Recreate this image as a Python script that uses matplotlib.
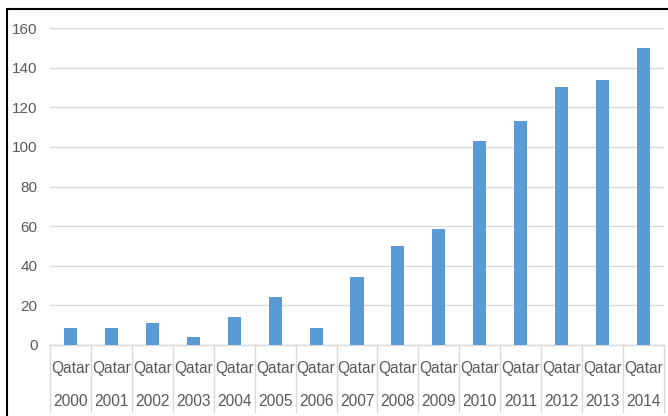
import matplotlib
matplotlib.use("Agg")
import matplotlib.pyplot as plt
import matplotlib.transforms as mtransforms
from matplotlib.patches import Rectangle

country = "Qatar"
years = ["2000", "2001", "2002", "2003", "2004", "2005", "2006", "2007",
         "2008", "2009", "2010", "2011", "2012", "2013", "2014"]
values = [8.7, 8.7, 11, 4, 14, 24, 8.7, 34.5, 50, 58.7, 103, 113, 130, 134, 150]
yticks = [0, 20, 40, 60, 80, 100, 120, 140, 160]

W, H = 668, 416
fig = plt.figure(figsize=(W / 100, H / 100), dpi=100)
ax = fig.add_axes([50 / W, (H - 345) / H, 614 / W, 317 / H])

grid_col = "#D9D9D9"
text_col = "#595959"
font = "Liberation Sans"

x = list(range(len(years)))
ax.bar(x, values, width=0.32, color="#5B9BD5", zorder=3)

ax.set_xlim(-0.5, len(years) - 0.5)
ax.set_ylim(0, 160)
ax.set_yticks(yticks)
ax.set_yticklabels([str(t) for t in yticks], fontsize=11, color=text_col, family=font)
ax.tick_params(axis="y", length=0, pad=9)
ax.set_xticks([])
ax.grid(axis="y", color=grid_col, linewidth=1, zorder=0)
for s in ["top", "right", "left"]:
    ax.spines[s].set_visible(False)
ax.spines["bottom"].set_color(grid_col)
ax.spines["bottom"].set_linewidth(1)

# two-level category labels with divider lines between categories
trans = mtransforms.blended_transform_factory(ax.transData, ax.transAxes)
for i in range(len(years) + 1):
    ax.plot([i - 0.5, i - 0.5], [0, -0.21], transform=trans, color=grid_col,
            linewidth=1, clip_on=False)
for i, yr in enumerate(years):
    ax.text(i, -0.073, country, transform=trans, ha="center", va="center",
            fontsize=11.2, color=text_col, family=font)
    ax.text(i, -0.177, yr, transform=trans, ha="center", va="center",
            fontsize=11.2, color=text_col, family=font)

# chart frame (only left and top edges fall inside the image)
fig.add_artist(Rectangle((7 / W, -0.5), 2, (H - 9) / H + 0.5,
                         transform=fig.transFigure, fill=False,
                         edgecolor="black", linewidth=1.5))

fig.savefig("out.png", dpi=100)
